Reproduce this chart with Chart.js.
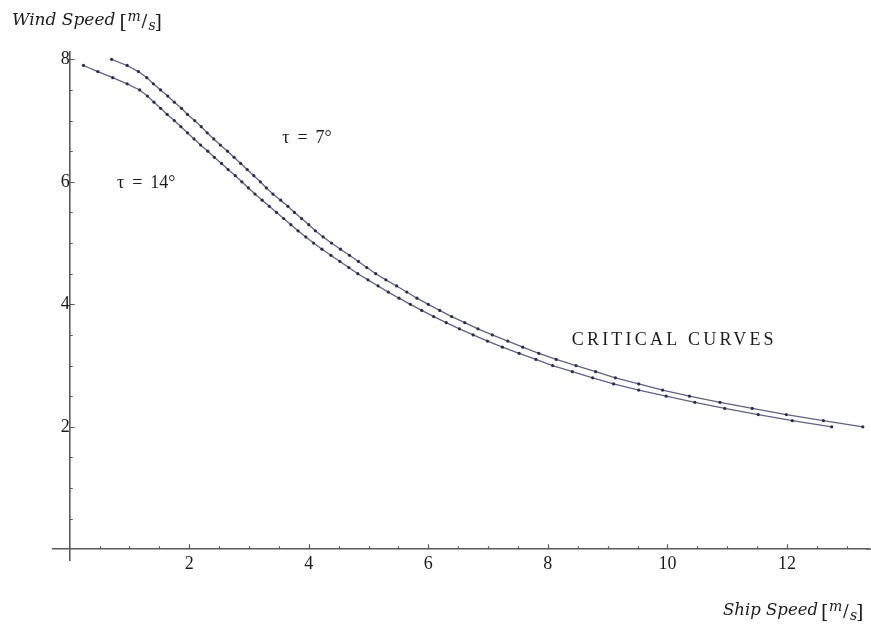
<!DOCTYPE html>
<html>
<head>
<meta charset="utf-8">
<script src="https://cdn.jsdelivr.net/npm/chart.js@4/dist/chart.umd.min.js"></script>
<style>
  html, body { margin: 0; padding: 0; background: #fff; overflow: hidden; }
  #wrap { width: 871px; height: 624px; }
</style>
</head>
<body>
<div id="wrap"><canvas id="c" width="871" height="624"></canvas></div>
<script>
// ---- data ----
const windSpeed7 = [8.0,7.9,7.8,7.7,7.6,7.5,7.4,7.3,7.2,7.1,7.0,6.9,6.8,6.7,6.6,6.5,6.4,6.3,6.2,6.1,
  6.0,5.9,5.8,5.7,5.6,5.5,5.4,5.3,5.2,5.1,5.0,4.9,4.8,4.7,4.6,4.5,4.4,4.3,4.2,4.1,
  4.0,3.9,3.8,3.7,3.6,3.5,3.4,3.3,3.2,3.1,3.0,2.9,2.8,2.7,2.6,2.5,2.4,2.3,2.2,2.1,2.0];
const shipSpeed7 = [0.70,0.96,1.15,1.29,1.40,1.52,1.64,1.75,1.87,1.97,2.09,2.20,2.30,2.41,2.52,2.64,2.75,2.86,2.97,3.08,
  3.19,3.29,3.40,3.53,3.65,3.76,3.88,4.00,4.11,4.24,4.38,4.53,4.68,4.83,4.97,5.12,5.29,5.47,5.64,5.81,
  6.00,6.19,6.39,6.61,6.83,7.07,7.33,7.58,7.85,8.14,8.47,8.80,9.13,9.52,9.92,10.37,10.88,11.42,11.99,12.61,13.27];

const windSpeed14 = [7.9,7.8,7.7,7.6,7.5,7.4,7.3,7.2,7.1,7.0,6.9,6.8,6.7,6.6,6.5,6.4,6.3,6.2,6.1,
  6.0,5.9,5.8,5.7,5.6,5.5,5.4,5.3,5.2,5.1,5.0,4.9,4.8,4.7,4.6,4.5,4.4,4.3,4.2,4.1,
  4.0,3.9,3.8,3.7,3.6,3.5,3.4,3.3,3.2,3.1,3.0,2.9,2.8,2.7,2.6,2.5,2.4,2.3,2.2,2.1,2.0];
const shipSpeed14 = [0.23,0.47,0.72,0.96,1.17,1.30,1.41,1.52,1.63,1.75,1.86,1.97,2.08,2.19,2.31,2.42,2.54,2.65,2.77,
  2.88,2.99,3.10,3.22,3.34,3.46,3.58,3.70,3.82,3.95,4.08,4.22,4.37,4.52,4.67,4.82,4.99,5.16,5.33,5.51,
  5.70,5.89,6.09,6.30,6.52,6.75,6.99,7.24,7.52,7.80,8.08,8.41,8.75,9.10,9.52,9.98,10.46,10.96,11.52,12.09,12.75];

const xTickLabels = [2, 4, 6, 8, 10, 12];
const yTickLabels = [2, 4, 6, 8];
const minorStep = 0.5;

const seriesNames = ['τ = 7°', 'τ = 14°'];
const annotationText = 'CRITICAL CURVES';
const yTitle = 'Wind Speed';
const xTitle = 'Ship Speed';

// ---- styles ----
const lineColor = '#60608c';
const pointColor = '#2c2c50';
const axisColor = '#5a5a5a';
const textColor = '#1c1c1c';

const X_MIN = -0.28, X_MAX = 13.34, Y_MIN = -0.175, Y_MAX = 8.12;

function tickValues(max, step) {
  const out = [];
  for (let v = step; v <= max + 1e-9; v += step) out.push(Math.round(v * 100) / 100);
  return out;
}
const xTicks = tickValues(X_MAX, minorStep);
const yTicks = tickValues(Y_MAX, minorStep);

function toPoints(xs, ys) { return xs.map((v, i) => ({ x: v, y: ys[i] })); }

function drawUnit(ctx, x, base) {
  ctx.fillStyle = textColor;
  ctx.textAlign = 'left';
  ctx.textBaseline = 'alphabetic';
  ctx.font = '19px "DejaVu Serif"';
  ctx.fillText('[', x, base + 3);
  ctx.font = 'italic 14px "DejaVu Serif"';
  ctx.fillText('m', x + 8, base - 4);
  ctx.font = '17px "DejaVu Serif"';
  ctx.fillText('/', x + 22, base + 1);
  ctx.font = 'italic 14px "DejaVu Serif"';
  ctx.fillText('s', x + 29, base + 5);
  ctx.font = '19px "DejaVu Serif"';
  ctx.fillText(']', x + 35, base + 3);
}

const decor = {
  id: 'decor',
  beforeDraw(chart) {
    const ctx = chart.ctx;
    ctx.save();
    ctx.fillStyle = '#fff';
    ctx.fillRect(0, 0, chart.width, chart.height);
    ctx.restore();
  },
  afterDraw(chart) {
    const { ctx, chartArea, scales: { x, y } } = chart;
    const x0 = x.getPixelForValue(0), y0 = y.getPixelForValue(0);
    ctx.save();
    // continue the x axis line to the right edge, as in the reference
    ctx.strokeStyle = axisColor;
    ctx.lineWidth = 1.6;
    ctx.beginPath();
    ctx.moveTo(chartArea.right - 1, Math.round(y0));
    ctx.lineTo(chart.width, Math.round(y0));
    ctx.stroke();

    ctx.lineWidth = 1.2;
    ctx.beginPath();
    xTicks.forEach(v => {
      const px = Math.round(x.getPixelForValue(v)) + 0.5;
      const len = xTickLabels.includes(v) ? 5 : 3;
      ctx.moveTo(px, y0); ctx.lineTo(px, y0 - len);
    });
    yTicks.forEach(v => {
      const py = Math.round(y.getPixelForValue(v)) + 0.5;
      const len = yTickLabels.includes(v) ? 5 : 3;
      ctx.moveTo(x0, py); ctx.lineTo(x0 + len, py);
    });
    ctx.stroke();

    // series labels
    ctx.fillStyle = textColor;
    ctx.font = '18px "Liberation Serif"';
    ctx.wordSpacing = '3.5px';
    ctx.textAlign = 'center';
    ctx.textBaseline = 'middle';
    ctx.fillText(seriesNames[0], x.getPixelForValue(3.97), y.getPixelForValue(6.71));
    ctx.fillText(seriesNames[1], x.getPixelForValue(1.28), y.getPixelForValue(5.98));
    ctx.wordSpacing = '0px';

    // annotation
    ctx.font = '18px "Liberation Serif"';
    ctx.letterSpacing = '3.2px';
    ctx.textAlign = 'left';
    ctx.fillText(annotationText, x.getPixelForValue(8.40), y.getPixelForValue(3.41));
    ctx.letterSpacing = '0px';

    // axis titles
    ctx.textBaseline = 'alphabetic';
    ctx.font = 'italic 17px "DejaVu Serif"';
    ctx.fillText(yTitle, 12, 25);
    drawUnit(ctx, 12 + ctx.measureText(yTitle).width + 4, 25);
    ctx.font = 'italic 16.5px "DejaVu Serif"';
    ctx.textAlign = 'left';
    const w = ctx.measureText(xTitle).width;
    ctx.fillText(xTitle, 818 - w, 615);
    drawUnit(ctx, 821, 615);
    ctx.restore();
  }
};

const tickFont = { family: '"Liberation Serif"', size: 18 };

new Chart(document.getElementById('c'), {
  type: 'scatter',
  data: {
    datasets: [
      { label: seriesNames[0], data: toPoints(shipSpeed7, windSpeed7) },
      { label: seriesNames[1], data: toPoints(shipSpeed14, windSpeed14) }
    ].map(d => Object.assign(d, {
      showLine: true,
      borderColor: lineColor,
      borderWidth: 1.3,
      pointRadius: 1.6,
      pointBackgroundColor: pointColor,
      pointBorderWidth: 0,
      tension: 0,
      clip: false
    }))
  },
  options: {
    responsive: false,
    animation: false,
    devicePixelRatio: 1,
    layout: { padding: { left: 53, right: 0, top: 52, bottom: 64 } },
    plugins: { legend: { display: false }, tooltip: { enabled: false } },
    scales: {
      x: {
        type: 'linear',
        min: X_MIN, max: X_MAX,
        position: { y: 0 },
        afterBuildTicks: s => { s.ticks = xTickLabels.map(v => ({ value: v })); },
        grid: { display: false, drawTicks: false },
        border: { display: true, color: axisColor, width: 1.6 },
        ticks: { color: textColor, font: tickFont, padding: 4, maxRotation: 0, autoSkip: false,
                 callback: v => String(v) }
      },
      y: {
        type: 'linear',
        min: Y_MIN, max: Y_MAX,
        position: { x: 0 },
        afterBuildTicks: s => { s.ticks = yTickLabels.map(v => ({ value: v })); },
        grid: { display: false, drawTicks: false },
        border: { display: true, color: axisColor, width: 1.6 },
        ticks: { color: textColor, font: tickFont, padding: 4, autoSkip: false,
                 callback: v => String(v) }
      }
    }
  },
  plugins: [decor]
});
</script>
</body>
</html>
